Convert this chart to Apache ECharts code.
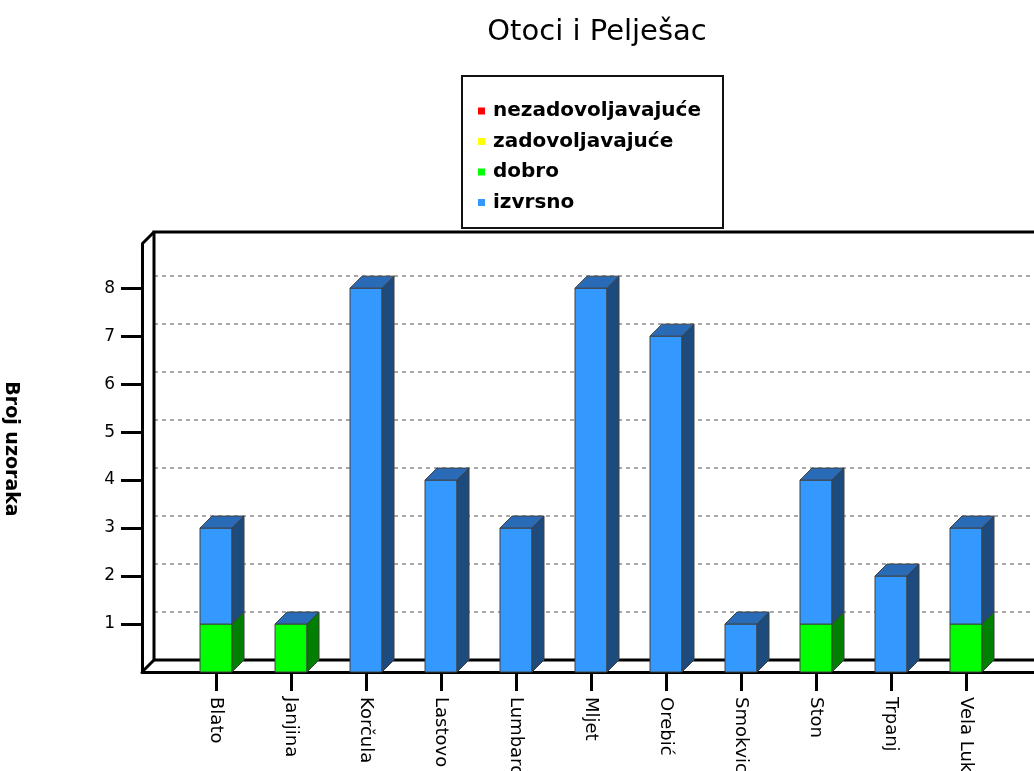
<!DOCTYPE html>
<html>
<head>
<meta charset="utf-8">
<script src="https://cdn.jsdelivr.net/npm/echarts@6/dist/echarts.min.js"></script>
<style>
  html, body { margin: 0; padding: 0; background: #fff; }
  #chart { width: 1034px; height: 771px; }
</style>
</head>
<body>
<div id="chart"></div>
<script>
// podaci
var categories = ['Blato', 'Janjina', 'Korčula', 'Lastovo', 'Lumbarda', 'Mljet', 'Orebić', 'Smokvica', 'Ston', 'Trpanj', 'Vela Luka'];
var nezadovoljavajuce = [0, 0, 0, 0, 0, 0, 0, 0, 0, 0, 0];
var zadovoljavajuce = [0, 0, 0, 0, 0, 0, 0, 0, 0, 0, 0];
var dobro = [1, 1, 0, 0, 0, 0, 0, 0, 1, 0, 1];
var izvrsno = [2, 0, 8, 4, 3, 8, 7, 1, 3, 2, 2];
var yTicks = [1, 2, 3, 4, 5, 6, 7, 8];

var FONT = 'DejaVu Sans';
var BAR_W = 32;   // sirina prednje plohe
var DEPTH = 12;   // 3D dubina

var chartDom = document.getElementById('chart');
var myChart = echarts.init(chartDom);

var xIdx = categories.map(function (c, i) { return i; });

// stog: nezad, zad, dobro, izvrsno (odozdo prema gore)
function stackData(values, below) {
  return values.map(function (v, i) {
    var base = 0;
    below.forEach(function (arr) { base += arr[i]; });
    return [i, v, base];
  });
}

function bar3d(front, side, withTop) {
  return function (params, api) {
    var x = api.value(0), v = api.value(1), base = api.value(2);
    var p0 = api.coord([x, base]);
    var p1 = api.coord([x, base + v]);
    var l = p0[0] - BAR_W / 2, r = p0[0] + BAR_W / 2;
    var children = [];
    var stroke = {stroke: '#404040', lineWidth: 1};
    if (v > 0) {
      children.push({
        type: 'rect',
        shape: {x: l, y: p1[1], width: BAR_W, height: p0[1] - p1[1]},
        style: Object.assign({fill: front}, stroke)
      });
      children.push({
        type: 'polygon',
        shape: {points: [[r, p0[1]], [r + DEPTH, p0[1] - DEPTH], [r + DEPTH, p1[1] - DEPTH], [r, p1[1]]]},
        style: Object.assign({fill: side}, stroke)
      });
    }
    if (withTop) {
      children.push({
        type: 'polygon',
        shape: {points: [[l, p1[1]], [l + DEPTH, p1[1] - DEPTH], [r + DEPTH, p1[1] - DEPTH], [r, p1[1]]]},
        style: Object.assign({fill: '#2a6bb8'}, stroke)
      });
    }
    return {type: 'group', children: children};
  };
}

function series(name, values, below, colors, withTop) {
  return {
    name: name,
    type: 'custom',
    xAxisIndex: 0,
    yAxisIndex: 0,
    itemStyle: {color: colors[0]},
    renderItem: bar3d(colors[0], colors[1], withTop),
    encode: {x: 0, y: 1},
    data: stackData(values, below),
    z: 5
  };
}

var option = {
  animation: false,
  title: {
    text: 'Otoci i Pelješac',
    left: 592,
    top: 13,
    textAlign: 'center',
    textStyle: {fontFamily: FONT, fontSize: 29, fontWeight: 'normal', color: '#000'}
  },
  legend: {
    orient: 'vertical',
    left: 478,
    top: 101,
    padding: 0,
    itemWidth: 7,
    itemHeight: 7,
    itemGap: 10.5,
    icon: 'rect',
    textStyle: {fontFamily: FONT, fontSize: 20, fontWeight: 'bold', color: '#000', lineHeight: 20, padding: [0, 0, 0, 3]},
    data: ['nezadovoljavajuće', 'zadovoljavajuće', 'dobro', 'izvrsno']
  },
  graphic: [
    {type: 'rect', shape: {x: 462, y: 76, width: 261, height: 152}, style: {fill: 'none', stroke: '#111', lineWidth: 2}, z: 1},
    {type: 'line', shape: {x1: 142, y1: 672, x2: 154, y2: 660}, style: {stroke: '#000', lineWidth: 3}, z: 3},
    {type: 'line', shape: {x1: 142, y1: 244, x2: 154, y2: 232}, style: {stroke: '#000', lineWidth: 3}, z: 3}
  ],
  grid: [
    // prednja ravnina
    {left: 142, top: 244, bottom: 99, right: -82, outerBoundsMode: 'none', containLabel: false},
    // zadnja ravnina
    {left: 154, top: 232, bottom: 111, right: -94, outerBoundsMode: 'none', containLabel: false,
      show: true, borderColor: '#000', borderWidth: 3, backgroundColor: 'transparent', z: 2}
  ],
  xAxis: [
    {
      type: 'value',
      gridIndex: 0,
      min: -0.987,
      max: 12,
      splitLine: {show: false},
      axisLine: {show: true, onZero: false, lineStyle: {color: '#000', width: 3}},
      axisTick: {show: true, customValues: xIdx, length: 19, lineStyle: {color: '#000', width: 3}},
      axisLabel: {
        customValues: xIdx,
        formatter: function (v) { return categories[v]; },
        rotate: -90,
        margin: 25,
        fontFamily: FONT,
        fontSize: 18,
        color: '#000'
      },
      z: 4
    },
    {
      type: 'value',
      gridIndex: 1,
      min: -0.987,
      max: 12,
      show: false
    }
  ],
  yAxis: [
    {
      type: 'value',
      gridIndex: 0,
      min: 0,
      max: 8.92,
      name: 'Broj uzoraka',
      nameLocation: 'middle',
      nameRotate: -90,
      nameGap: 122,
      nameTextStyle: {fontFamily: FONT, fontSize: 19, fontWeight: 'bold', color: '#000', padding: [0, 18, 0, 0]},
      splitLine: {show: false},
      axisLine: {show: true, onZero: false, lineStyle: {color: '#000', width: 3}},
      axisTick: {show: true, customValues: yTicks, length: 21, lineStyle: {color: '#000', width: 3}},
      axisLabel: {
        customValues: yTicks,
        margin: 27,
        fontFamily: FONT,
        fontSize: 17,
        color: '#000',
        padding: [0, 0, 12, 0]
      },
      z: 4
    },
    {
      type: 'value',
      gridIndex: 1,
      min: 0,
      max: 8.92,
      interval: 1,
      axisLine: {show: false},
      axisTick: {show: false},
      axisLabel: {show: false},
      splitLine: {show: true, lineStyle: {color: '#a8a8a8', width: 2, type: [4, 4]}},
      z: 1
    }
  ],
  series: [
    series('nezadovoljavajuće', nezadovoljavajuce, [], ['#ff0000', '#800000'], false),
    series('zadovoljavajuće', zadovoljavajuce, [nezadovoljavajuce], ['#ffff00', '#808000'], false),
    series('dobro', dobro, [nezadovoljavajuce, zadovoljavajuce], ['#00ff00', '#007f00'], false),
    series('izvrsno', izvrsno, [nezadovoljavajuce, zadovoljavajuce, dobro], ['#3399ff', '#1d4b7d'], true)
  ]
};

option && myChart.setOption(option);
</script>
</body>
</html>
